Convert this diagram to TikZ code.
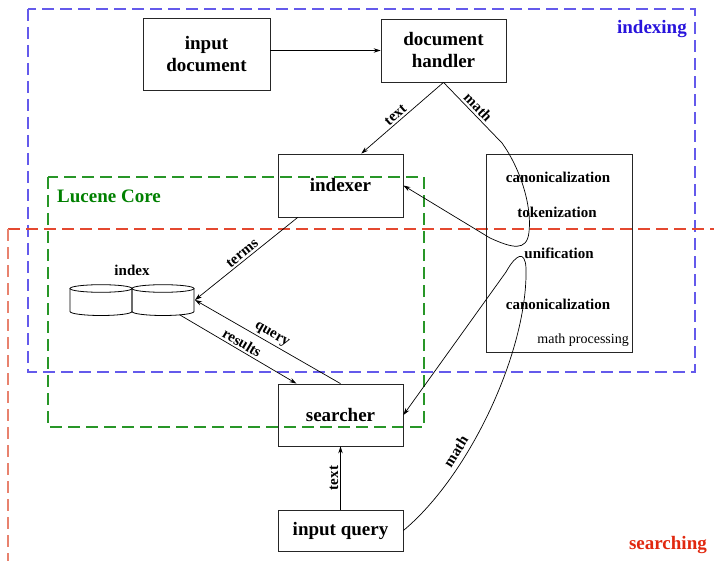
\documentclass[tikz,border=0pt]{standalone}
\usepackage{fontspec}
\setmainfont{Liberation Serif}
\usetikzlibrary{arrows.meta,calc}
\definecolor{bluedash}{RGB}{100,90,235}
\definecolor{bluetext}{RGB}{40,20,220}
\definecolor{greendash}{RGB}{40,150,40}
\definecolor{greentext}{RGB}{0,128,0}
\definecolor{reddash}{RGB}{228,72,48}
\definecolor{redside}{RGB}{232,130,110}
\definecolor{redtext}{RGB}{225,40,15}
\begin{document}
\begin{tikzpicture}[x=1pt,y=-1pt,
  box/.style={draw=black!85, line width=0.8pt, minimum width=125pt, inner sep=0pt, align=center, font=\bfseries\fontsize{19}{22}\selectfont},
  lab/.style={font=\bfseries\fontsize{15}{18}\selectfont, inner sep=2pt},
  title/.style={font=\bfseries\fontsize{19}{22}\selectfont, inner sep=0pt},
  arr/.style={line width=0.7pt, -{Stealth[length=7pt,width=4.5pt]}},
  grp/.style={line width=1.1pt, dash pattern=on 12pt off 6pt},
  cyl/.style={line width=0.8pt, draw=black}
]
\useasboundingbox (0,0) rectangle (714,561);

% group frames
\draw[grp, draw=bluedash] (28,9) rectangle (695,372);
\draw[grp, draw=greendash] (48,177) rectangle (424,427);
\draw[grp, draw=reddash] (8,229) -- (714,229);
\draw[grp, draw=redside] (8,229) -- (8,561);

\node[title, text=bluetext, anchor=east] (indexing) at (687,29) {indexing};
\node[title, text=greentext, anchor=west] (lucene) at (57,196) {Lucene Core};
\node[title, text=redtext, anchor=east] (searching) at (707,545) {searching};

% boxes
\node[box, minimum width=127pt, minimum height=72pt] (inputdoc) at (206.5,54) {input\\document};
\node[box, minimum height=63pt] (dochandler) at (443.5,50.5) {document\\handler};
\node[box, minimum height=63pt] (indexer) at (340.5,185.5) {indexer};
\node[draw=black!85, line width=0.8pt, minimum width=146pt, minimum height=198pt, inner sep=0pt] (mathproc) at (559,253) {};
\node[box, minimum height=62pt] (searcher) at (340.5,415) {searcher};
\node[box, minimum height=41pt] (inputquery) at (340.5,530.5) {input query};

% math processing contents
\node[lab] (canon1) at (558,177) {canonicalization};
\node[lab] (token) at (557,212) {tokenization};
\node[lab] (unif) at (559,253) {unification};
\node[lab] (canon2) at (558,304) {canonicalization};
\node[font=\fontsize{14}{16}\selectfont, anchor=east, inner sep=0pt] (mplabel) at (629,340) {math processing};

% index cylinders
\node[lab] (indexlabel) at (132,270) {index};
\foreach \cx in {101,163} {
  \draw[cyl] (\cx-31,288.5) -- (\cx-31,311.5) arc[start angle=180, end angle=360, x radius=31pt, y radius=4pt] -- (\cx+31,288.5);
  \draw[cyl] (\cx,288.5) ellipse[x radius=31pt, y radius=3.8pt];
}
\coordinate (idxR) at (195,300);
\coordinate (idxB) at (180,315);

% connectors
\draw[arr] (inputdoc.east |- dochandler.west) -- (dochandler.west);
\draw[arr] (dochandler.south) -- node[lab, sloped, above, pos=0.53] {text} ($(indexer.north west)!0.665!(indexer.north east)$);
\draw[arr] ($(indexer.south west)!0.16!(indexer.south east)$) -- node[lab, sloped, above] {terms} (idxR);
\draw[arr] (searcher.north) -- node[lab, sloped, above, pos=0.5] {query} (idxR);
\draw[arr] (idxB) -- node[lab, sloped, above, pos=0.5] {results} ($(searcher.north west)!0.15!(searcher.north east)$);
\draw[arr] (inputquery.north) -- node[lab, sloped, above] {text} (searcher.south);

\draw[arr] (dochandler.south) -- node[lab, sloped, above, pos=0.5] {math} (502,143)
  .. controls (520,168) and (532,205) .. (529,232)
  .. controls (527,252) and (512,248) .. (490,238) -- (indexer.east);

\draw[arr] (inputquery.east) .. controls (470,475) and (528,350) .. node[lab, sloped, above=3pt, pos=0.33] {math} (526,268)
  .. controls (525,250) and (516,254) .. (506,272) -- (searcher.east);

\end{tikzpicture}
\end{document}
